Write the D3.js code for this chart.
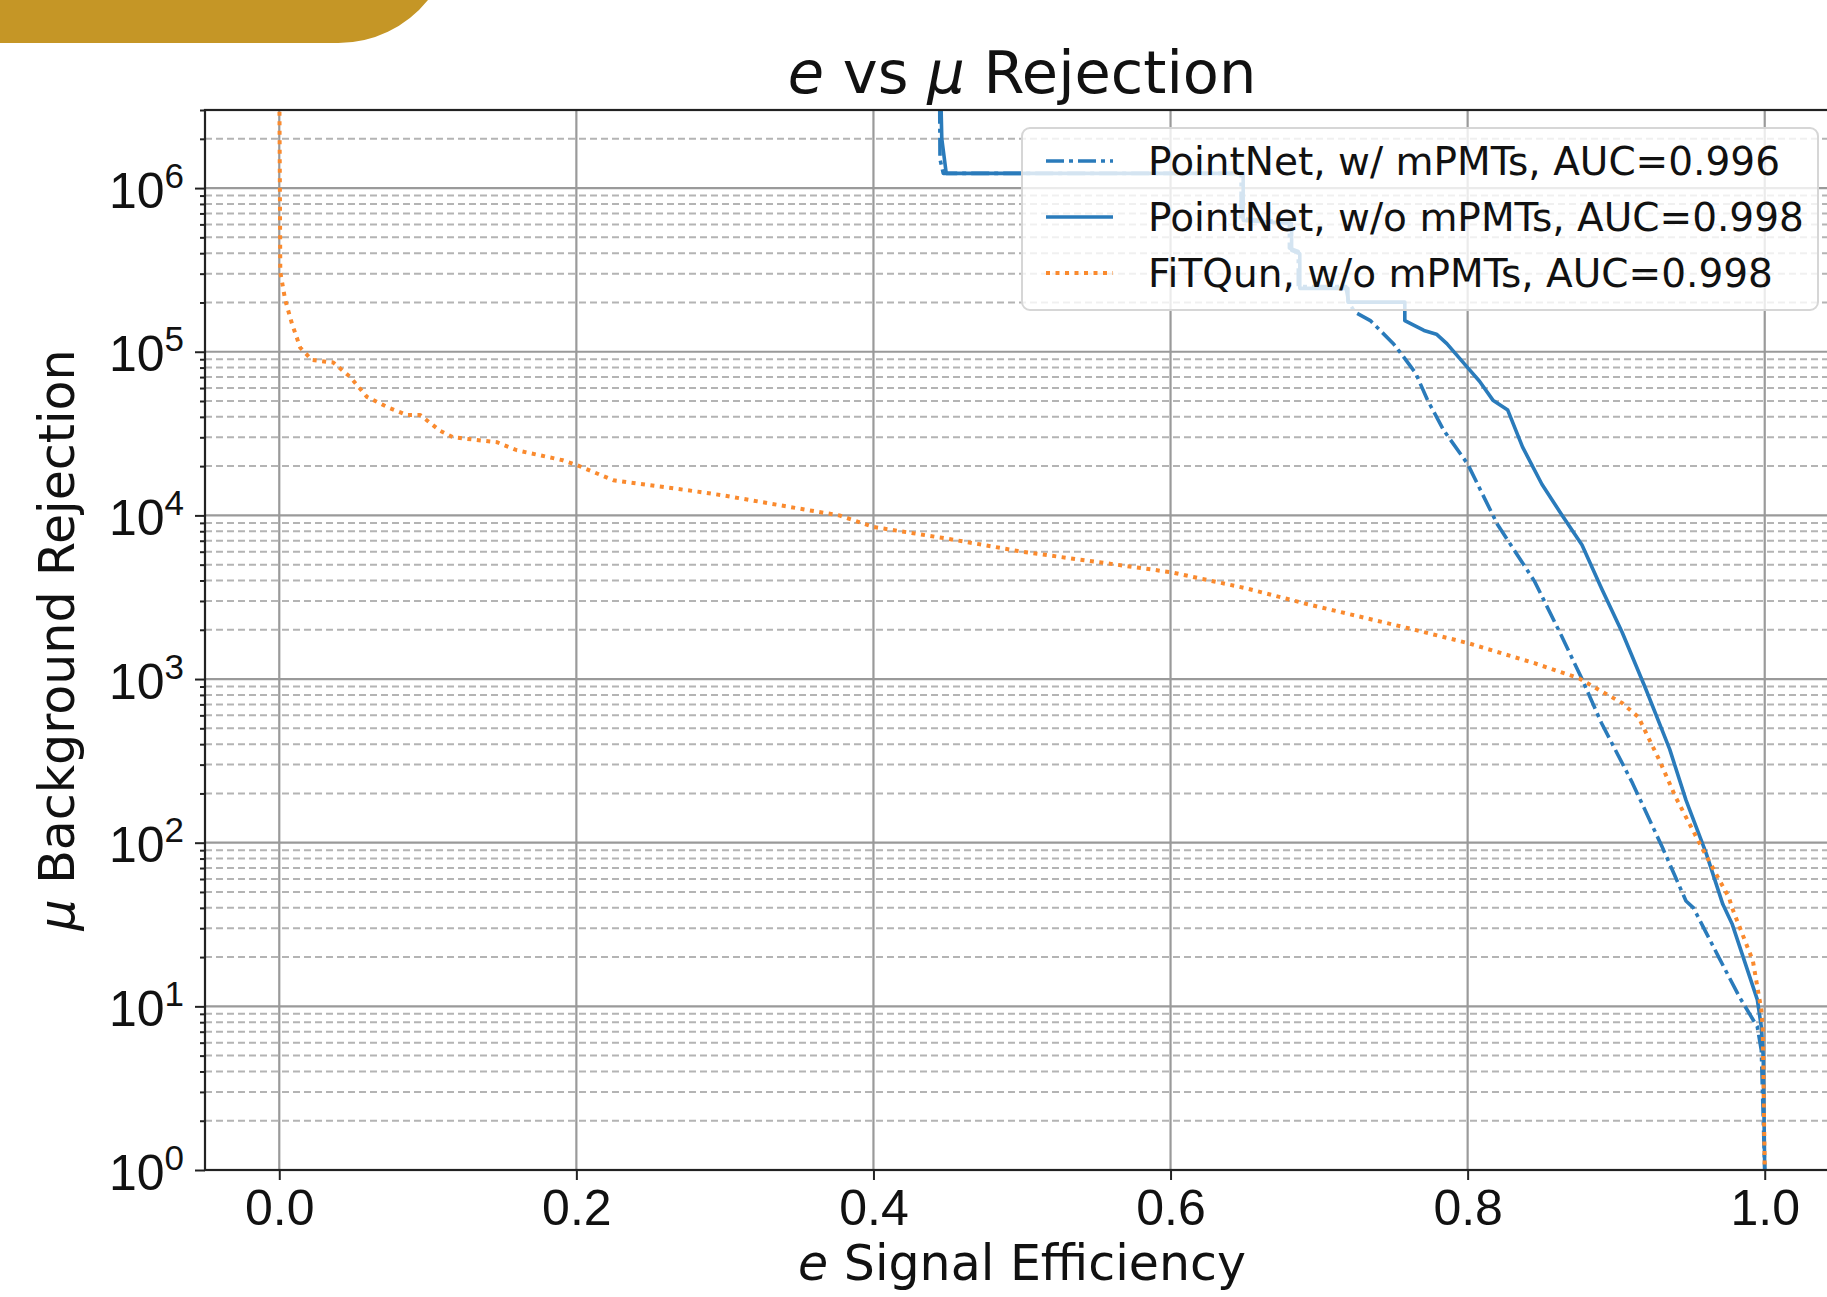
<!DOCTYPE html>
<html>
<head>
<meta charset="utf-8">
<script src="https://cdn.jsdelivr.net/npm/d3@7"></script>
<style>
	body { margin: 0; background: #fff; }
	svg { display: block; font-family: "DejaVu Sans", sans-serif; }
</style>
</head>
<body>
<div id="chart"></div>
<script>
///////////////////////////////////////////////////////////////////////////
//////////////////////////////// Data /////////////////////////////////////
///////////////////////////////////////////////////////////////////////////

var xTicks = [0.0, 0.2, 0.4, 0.6, 0.8, 1.0];
var yTickExps = [0, 1, 2, 3, 4, 5, 6];
var yMinorMult = [2, 3, 4, 5, 6, 7, 8, 9];

var seriesNames = ["PointNet, w/ mPMTs, AUC=0.996", "PointNet, w/o mPMTs, AUC=0.998", "FiTQun, w/o mPMTs, AUC=0.998"];

//[signal efficiency, background rejection]
var pointNetMpmt = [
	[0.4445, 5e6], [0.4448, 1.5e6], [0.447, 1.23e6], [0.6475, 1.23e6], [0.6475, 6.5e5],
	[0.68, 6.2e5], [0.68, 4.3e5], [0.686, 4.1e5], [0.686, 2.5e5], [0.718, 2.5e5],
	[0.72, 2.0e5], [0.724, 1.75e5], [0.7345, 1.55e5], [0.75, 1.12e5], [0.755, 9.8e4],
	[0.765, 7.4e4], [0.773, 5.06e4], [0.784, 3.3e4], [0.80, 2.06e4], [0.82, 8.83e3],
	[0.845, 3.96e3], [0.863, 1.85e3], [0.877, 1.0e3], [0.89, 541], [0.911, 231],
	[0.931, 94], [0.947, 44], [0.952, 40], [0.969, 20], [0.983, 11.4],
	[0.995, 7.5], [0.9977, 5.4], [1.0, 1]
];

var pointNetNoMpmt = [
	[0.445, 5e6], [0.446, 2.0e6], [0.449, 1.23e6], [0.6489, 1.23e6], [0.6489, 6.35e5],
	[0.6815, 6.07e5], [0.6815, 4.17e5], [0.687, 3.98e5], [0.687, 2.44e5], [0.7194, 2.44e5],
	[0.7194, 2.01e5], [0.7577, 2.01e5], [0.7577, 1.55e5], [0.7706, 1.35e5], [0.779, 1.28e5],
	[0.786, 1.12e5], [0.80, 8.0e4], [0.808, 6.6e4], [0.817, 5.06e4], [0.827, 4.4e4],
	[0.837, 2.61e4], [0.85, 1.55e4], [0.863, 1.02e4], [0.877, 6.6e3], [0.89, 3.6e3],
	[0.904, 1.93e3], [0.92, 867], [0.936, 373], [0.947, 182], [0.9606, 86],
	[0.9718, 42], [0.978, 32], [0.995, 11], [0.9977, 7.5], [0.999, 4.9], [1.0, 1]
];

var fitqun = [
	[0.0, 5e6], [0.0007, 3.06e5], [0.004, 2.07e5], [0.0085, 1.49e5], [0.0141, 1.06e5],
	[0.022, 8.9e4], [0.0363, 8.6e4], [0.0478, 7.0e4], [0.059, 5.3e4], [0.0725, 4.6e4],
	[0.086, 4.1e4], [0.0949, 4.1e4], [0.108, 3.3e4], [0.117, 3.0e4], [0.1465, 2.8e4],
	[0.16, 2.5e4], [0.191, 2.17e4], [0.2003, 2.03e4], [0.2248, 1.64e4], [0.2833, 1.39e4],
	[0.30, 1.32e4], [0.35, 1.1e4], [0.377, 1.0e4], [0.40, 8.5e3], [0.45, 7.2e3],
	[0.50, 6.0e3], [0.55, 5.2e3], [0.60, 4.5e3], [0.65, 3.6e3], [0.69, 2.9e3],
	[0.7595, 2.05e3], [0.80, 1.66e3], [0.845, 1.25e3], [0.875, 1.01e3], [0.904, 713],
	[0.915, 585], [0.929, 320], [0.940, 190], [0.958, 92], [0.976, 46],
	[0.978, 40], [0.992, 19], [0.9977, 9.5], [0.9987, 7.2], [1.0, 1]
];

///////////////////////////////////////////////////////////////////////////
/////////////////////////////// Set-up ////////////////////////////////////
///////////////////////////////////////////////////////////////////////////

var width = 1827,
	height = 1297,
	plot = {left: 205, right: 1839, top: 110, bottom: 1170};

var svg = d3.select("#chart").append("svg")
	.attr("width", width)
	.attr("height", height);

var x = d3.scaleLinear().domain([-0.05, 1.05]).range([plot.left, plot.right]);
var y = d3.scaleLog().domain([1, 3e6]).range([plot.bottom, plot.top]);

var majorY = yTickExps.map(function(e) { return Math.pow(10, e); });
var minorY = [];
yTickExps.forEach(function(e) {
	yMinorMult.forEach(function(m) {
		var v = m * Math.pow(10, e);
		if (v <= y.domain()[1]) minorY.push(v);
	});
});

svg.append("defs").append("clipPath").attr("id", "plotClip")
	.append("rect")
	.attr("x", plot.left).attr("y", plot.top)
	.attr("width", plot.right - plot.left).attr("height", plot.bottom - plot.top);

//Gold corner shape top left
svg.append("path")
	.attr("d", "M0,0 H428 A115,115 0 0 1 338,43 H0 Z")
	.attr("fill", "#c59626");

///////////////////////////////////////////////////////////////////////////
//////////////////////////////// Grid /////////////////////////////////////
///////////////////////////////////////////////////////////////////////////

var grid = svg.append("g").attr("class", "grid");

grid.selectAll(".minorY").data(minorY).enter().append("line")
	.attr("x1", plot.left).attr("x2", plot.right)
	.attr("y1", function(d) { return y(d); }).attr("y2", function(d) { return y(d); })
	.style("stroke", "#b4b4b4")
	.style("stroke-width", 2)
	.style("stroke-dasharray", "7,4");

grid.selectAll(".majorY").data(majorY).enter().append("line")
	.attr("x1", plot.left).attr("x2", plot.right)
	.attr("y1", function(d) { return y(d); }).attr("y2", function(d) { return y(d); })
	.style("stroke", "#9a9a9a")
	.style("stroke-width", 2.2);

grid.selectAll(".majorX").data(xTicks).enter().append("line")
	.attr("y1", plot.top).attr("y2", plot.bottom)
	.attr("x1", function(d) { return x(d); }).attr("x2", function(d) { return x(d); })
	.style("stroke", "#9a9a9a")
	.style("stroke-width", 2.2);

///////////////////////////////////////////////////////////////////////////
//////////////////////////////// Curves ///////////////////////////////////
///////////////////////////////////////////////////////////////////////////

var line = d3.line()
	.x(function(d) { return x(d[0]); })
	.y(function(d) { return y(d[1]); });

var curves = [
	{data: pointNetMpmt, color: "#2a7bbb", dash: "18,5,4,5", width: 3.6},
	{data: pointNetNoMpmt, color: "#2a7bbb", dash: null, width: 3.6},
	{data: fitqun, color: "#fa8a2e", dash: "4,5.5", width: 4}
];

var curveWrapper = svg.append("g").attr("clip-path", "url(#plotClip)");

curveWrapper.selectAll(".curve").data(curves).enter().append("path")
	.attr("class", "curve")
	.attr("d", function(d) { return line(d.data); })
	.style("fill", "none")
	.style("stroke", function(d) { return d.color; })
	.style("stroke-width", function(d) { return d.width; })
	.style("stroke-dasharray", function(d) { return d.dash; })
	.style("stroke-linejoin", "round");

///////////////////////////////////////////////////////////////////////////
//////////////////////////////// Axes /////////////////////////////////////
///////////////////////////////////////////////////////////////////////////

var xAxis = svg.append("g")
	.attr("transform", "translate(0," + plot.bottom + ")")
	.call(d3.axisBottom(x).tickValues(xTicks).tickSize(10).tickPadding(9).tickFormat(d3.format(".1f")));

var yMinorAxis = svg.append("g")
	.attr("transform", "translate(" + plot.left + ",0)")
	.call(d3.axisLeft(y).tickValues(minorY).tickSize(5).tickFormat(""));

var yAxis = svg.append("g")
	.attr("transform", "translate(" + plot.left + ",0)")
	.call(d3.axisLeft(y).tickValues(majorY).tickSize(10).tickPadding(11).tickFormat(""));

[xAxis, yAxis, yMinorAxis].forEach(function(a) {
	a.select(".domain").remove();
	a.selectAll(".tick line").style("stroke", "#222").style("stroke-width", 2);
});

xAxis.selectAll(".tick text")
	.style("font-size", "50px")
	.style("fill", "#111");

//Exponent labels 10^n
yAxis.selectAll(".tick text")
	.attr("dy", "0.38em")
	.style("font-size", "50px")
	.style("fill", "#111")
	.each(function(d) {
		var t = d3.select(this);
		t.append("tspan").text("10");
		t.append("tspan")
			.attr("dy", -20)
			.style("font-size", "35px")
			.text(Math.round(Math.log10(d)));
	});

//Spines
svg.append("rect")
	.attr("x", plot.left).attr("y", plot.top)
	.attr("width", plot.right - plot.left).attr("height", plot.bottom - plot.top)
	.style("fill", "none")
	.style("stroke", "#222")
	.style("stroke-width", 2.2);

///////////////////////////////////////////////////////////////////////////
//////////////////////////////// Titles ///////////////////////////////////
///////////////////////////////////////////////////////////////////////////

var cx = (plot.left + plot.right) / 2;

var title = svg.append("text")
	.attr("x", cx)
	.attr("y", 93)
	.style("text-anchor", "middle")
	.style("font-size", "59px")
	.style("fill", "#111");
title.append("tspan").style("font-style", "italic").text("e");
title.append("tspan").text(" vs ");
title.append("tspan").style("font-style", "italic").text("μ");
title.append("tspan").text(" Rejection");

var xLabel = svg.append("text")
	.attr("x", cx)
	.attr("y", 1280)
	.style("text-anchor", "middle")
	.style("font-size", "49px")
	.style("fill", "#111");
xLabel.append("tspan").style("font-style", "italic").text("e");
xLabel.append("tspan").text(" Signal Efficiency");

var yLabel = svg.append("text")
	.attr("transform", "translate(74," + ((plot.top + plot.bottom) / 2) + ") rotate(-90)")
	.style("text-anchor", "middle")
	.style("font-size", "49px")
	.style("fill", "#111");
yLabel.append("tspan").style("font-style", "italic").text("μ");
yLabel.append("tspan").text(" Background Rejection");

///////////////////////////////////////////////////////////////////////////
//////////////////////////////// Legend ///////////////////////////////////
///////////////////////////////////////////////////////////////////////////

var legend = svg.append("g").attr("class", "legend");

legend.append("rect")
	.attr("x", 1022).attr("y", 128)
	.attr("width", 796).attr("height", 182)
	.attr("rx", 8)
	.style("fill", "#fff")
	.style("fill-opacity", 0.8)
	.style("stroke", "#d6d6d6")
	.style("stroke-width", 2);

var legendRow = legend.selectAll(".legendRow").data(curves).enter().append("g")
	.attr("transform", function(d, i) { return "translate(0," + (161 + i * 56) + ")"; });

legendRow.append("line")
	.attr("x1", 1046).attr("x2", 1113)
	.style("stroke", function(d) { return d.color; })
	.style("stroke-width", function(d) { return d.width; })
	.style("stroke-dasharray", function(d) { return d.dash; });

legendRow.append("text")
	.attr("x", 1148)
	.attr("y", 14)
	.style("font-size", "39px")
	.style("fill", "#111")
	.text(function(d, i) { return seriesNames[i]; });
</script>
</body>
</html>
